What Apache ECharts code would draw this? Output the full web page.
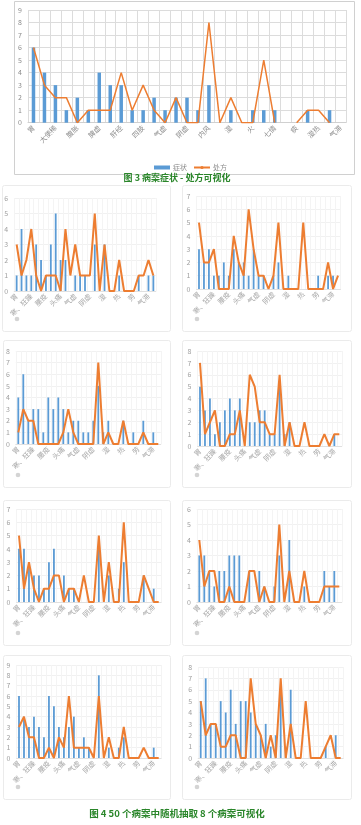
<!DOCTYPE html>
<html><head><meta charset="utf-8">
<script src="https://cdn.jsdelivr.net/npm/echarts@6/dist/echarts.min.js"></script>
<style>html,body{margin:0;padding:0;background:#fff;}#c{width:361px;height:825px;}</style>
</head><body><div id="c"></div><script>
const FONT = '"Noto Sans CJK SC", "Noto Sans", sans-serif';

// ---------- Figure 3 data ----------
const topCategories = ['胃','','大便稀','','腹胀','','脾虚','','肝经','','四肢','','气虚','','阴虚','','内风','','湿','','火','','七情','','痰','','湿热','','气滞'];
const topSymptoms      = [6,4,3,1,2,1,4,3,3,1,1,2,1,2,2,1,3,0,1,0,1,1,1,0,0,1,0,1,0];
const topPrescriptions = [6,3,2,2,0,1,1,1,4,1,3,1,0,2,0,0,8,0,2,0,0,5,0,null,0,1,1,0,null];
const topYMax = 9;

// ---------- Figure 4 data (8 random cases) ----------
const sampleCategories = ['胃','','','寒、狂躁','','','腰疫','','','头痛','','','气虚','','','阴虚','','','湿','','','热','','','劳','','','气滞',''];
const sampleYMax = [6,7,8,8,7,6,9,8];
const case1Symptoms      = [1,4,1,1,3,2,1,3,5,2,2,0,1,1,1,0,3,0,3,0,0,1,0,0,0,1,0,1,1];
const case1Prescriptions = [3,1,2,4,1,0,1,1,1,0,4,1,3,1,1,1,5,0,3,0,0,2,0,0,0,1,1,2,1];
const case2Symptoms      = [3,2,3,1,1,2,1,3,2,2,1,3,1,1,0,1,2,0,1,0,0,0,0,0,1,0,1,1,0];
const case2Prescriptions = [5,2,2,3,0,0,0,4,2,1,6,3,1,1,0,1,5,0,0,0,0,5,0,0,0,0,2,0,1];
const case3Symptoms      = [4,6,2,3,3,1,4,3,4,3,1,2,2,1,1,2,5,1,2,0,0,2,0,1,0,2,0,1,0];
const case3Prescriptions = [1,3,2,2,0,0,0,0,0,1,3,1,0,0,0,0,7,0,1,0,0,2,0,0,0,1,0,0,0];
const case4Symptoms      = [5,3,4,1,2,3,4,3,4,0,2,2,3,3,1,1,5,1,2,0,0,0,0,0,0,0,0,1,0];
const case4Prescriptions = [7,1,2,3,0,0,1,1,3,0,6,5,2,2,1,1,6,0,2,0,0,2,0,0,0,1,0,1,1];
const case5Symptoms      = [4,4,3,2,2,1,3,4,0,2,1,1,0,0,0,0,4,0,2,0,1,3,0,0,0,2,0,1,0];
const case5Prescriptions = [5,1,3,1,0,1,1,2,2,0,1,1,0,2,0,0,5,0,3,0,0,6,0,0,0,2,1,0,0];
const case6Symptoms      = [3,3,2,1,2,2,3,3,3,0,2,0,2,1,0,1,3,0,4,0,0,1,0,0,0,2,1,2,0];
const case6Prescriptions = [4,1,2,2,0,0,1,0,0,0,2,2,0,1,0,0,5,0,2,0,0,2,0,0,0,1,1,1,1];
const case7Symptoms      = [6,4,3,4,3,2,6,5,3,2,3,4,1,2,1,0,8,0,1,0,1,2,0,0,0,0,0,1,0];
const case7Prescriptions = [3,4,2,2,0,0,1,0,2,1,6,1,1,1,1,0,6,0,2,0,0,3,0,0,0,1,0,0,0];
const case8Symptoms      = [5,7,3,3,5,4,6,3,5,5,4,3,2,3,1,2,6,1,6,0,0,0,0,0,0,1,0,2,0];
const case8Prescriptions = [5,2,3,3,1,1,2,2,0,0,7,3,2,0,2,0,7,0,3,0,0,5,0,0,0,1,2,0,0];
const sampleSymptoms = [case1Symptoms,case2Symptoms,case3Symptoms,case4Symptoms,case5Symptoms,case6Symptoms,case7Symptoms,case8Symptoms];
const samplePrescriptions = [case1Prescriptions,case2Prescriptions,case3Prescriptions,case4Prescriptions,case5Prescriptions,case6Prescriptions,case7Prescriptions,case8Prescriptions];

const seriesNames = ['症状','处方'];
const captionTop = '图 3 病案症状 - 处方可视化';
const captionBottom = '图 4 50 个病案中随机抽取 8 个病案可视化';

// ---------- layout / style ----------
const BLUE = '#5b9bd5', ORANGE = '#ed7d31';
const topGrid = {left:28, top:10, width:318, height:112.7};
const panelGrids = [
  {left:14.2, top:198, width:141.6, height:93},
  {left:196.5, top:196, width:144, height:93},
  {left:15.8, top:351, width:145, height:93},
  {left:197.5, top:351, width:144.3, height:95},
  {left:16.5, top:509, width:144.7, height:93},
  {left:196.8, top:509, width:145, height:93},
  {left:16.5, top:665, width:144.7, height:93},
  {left:198.2, top:667, width:145, height:91}
];
const cards = [
  [2,185,168,146],[182,185,169,146],
  [3,340,167,147],[182,340,169,147],
  [3,500,167,145],[182,500,169,145],
  [3,655,167,144],[182,655,169,144]
];

const grids = [Object.assign({containLabel:false}, topGrid)].concat(panelGrids.map(g => Object.assign({containLabel:false}, g)));
const xAxes = [], yAxes = [], series = [];

xAxes.push({
  type:'category', gridIndex:0, data:topCategories, boundaryGap:true,
  axisLine:{show:true, lineStyle:{color:'#d0d0d0'}}, axisTick:{show:false},
  axisLabel:{interval:0, rotate:45, fontSize:7, color:'#8c8c8c', fontFamily:FONT, margin:4},
  splitLine:{show:true, interval:0, lineStyle:{color:'#dcdcdc', width:1}}
});
yAxes.push({
  type:'value', gridIndex:0, min:0, max:topYMax, interval:1,
  axisLine:{show:false}, axisTick:{show:false},
  axisLabel:{fontSize:7, color:'#8c8c8c', fontFamily:FONT, margin:6},
  splitLine:{show:true, lineStyle:{color:'#dcdcdc', width:1}}
});
series.push({name:seriesNames[0], type:'bar', xAxisIndex:0, yAxisIndex:0, data:topSymptoms, barWidth:3.5, itemStyle:{color:BLUE}, z:2});
series.push({name:seriesNames[1], type:'line', xAxisIndex:0, yAxisIndex:0, data:topPrescriptions, symbol:'none', connectNulls:false, lineStyle:{color:ORANGE, width:1.5}, itemStyle:{color:ORANGE}, z:3});

for (let i = 0; i < 8; i++) {
  const gi = i + 1;
  xAxes.push({
    type:'category', gridIndex:gi, data:sampleCategories, boundaryGap:true,
    axisLine:{show:true, lineStyle:{color:'#e0e0e0'}}, axisTick:{show:false},
    axisLabel:{interval:0, rotate:45, fontSize:7, color:'#a8a8a8', fontFamily:FONT, margin:4},
    splitLine:{show:true, interval:0, lineStyle:{color:'#f4f4f4', width:1}}
  });
  yAxes.push({
    type:'value', gridIndex:gi, min:0, max:sampleYMax[i], interval:1,
    axisLine:{show:false}, axisTick:{show:false},
    axisLabel:{fontSize:7, color:'#a0a0a0', fontFamily:FONT, margin:6},
    splitLine:{show:true, lineStyle:{color:'#f1f1f1', width:1}}
  });
  series.push({name:seriesNames[0], type:'bar', xAxisIndex:gi, yAxisIndex:gi, data:sampleSymptoms[i], barWidth:1.8, itemStyle:{color:BLUE}, z:2});
  series.push({name:seriesNames[1], type:'line', xAxisIndex:gi, yAxisIndex:gi, data:samplePrescriptions[i], symbol:'none', lineStyle:{color:ORANGE, width:2}, itemStyle:{color:ORANGE}, z:3});
}

const graphic = [
  {type:'rect', shape:{x:14.5, y:1.5, width:340, height:173}, style:{fill:'none', stroke:'#d0d0d0', lineWidth:1}, silent:true, z:-1},
  {type:'text', x:28, y:-1, style:{text:'病案症状-处方图', font:'bold 12px ' + FONT, fill:'#222', textVerticalAlign:'bottom'}, silent:true},
  {type:'text', x:177, y:177.5, style:{text:captionTop, font:'bold 9px ' + FONT, fill:'#2a862a', textAlign:'center', textVerticalAlign:'middle'}, silent:true},
  {type:'text', x:177, y:813, style:{text:captionBottom, font:'bold 9.5px ' + FONT, fill:'#2a862a', textAlign:'center', textVerticalAlign:'middle'}, silent:true}
];
cards.forEach(c => {
  graphic.push({type:'rect', shape:{x:c[0]+0.5, y:c[1]+0.5, width:c[2], height:c[3], r:2}, style:{fill:'none', stroke:'#ebebeb', lineWidth:1}, silent:true, z:-1});
  graphic.push({type:'circle', shape:{cx:c[0]+15, cy:c[1]+c[3]-12, r:2.3}, style:{fill:'#d4d4d4'}, silent:true});
});

const chart = echarts.init(document.getElementById('c'), null, {renderer:'canvas'});
chart.setOption({
  animation:false,
  backgroundColor:'#ffffff',
  textStyle:{fontFamily:FONT},
  legend:{
    data:[{name:seriesNames[0], icon:'rect'}, {name:seriesNames[1]}],
    left:149, top:159, itemWidth:16, itemHeight:4, itemGap:6,
    textStyle:{fontSize:7, color:'#8c8c8c', fontFamily:FONT, padding:[0,0,0,-2]}
  },
  grid:grids, xAxis:xAxes, yAxis:yAxes, series:series, graphic:graphic
});
</script></body></html>
